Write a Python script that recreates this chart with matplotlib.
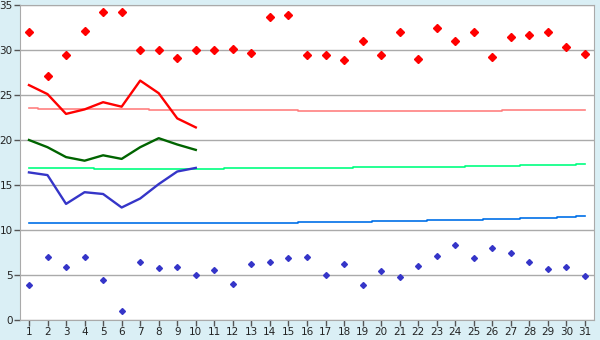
import numpy as np
import matplotlib
matplotlib.use('Agg')
import matplotlib.pyplot as plt

### DATA ------------------------
days = list(range(1, 32))
# daily max / min points
red_pts = [32.0, 27.1, 29.4, 32.1, 34.2, 34.2, 30.0, 30.0, 29.1, 30.0,
           30.0, 30.1, 29.7, 33.7, 33.9, 29.4, 29.4, 28.9, 31.0, 29.5,
           32.0, 29.0, 32.4, 31.0, 32.0, 29.2, 31.5, 31.7, 32.0, 30.3, 29.6]
blue_pts = [3.9, 7.0, 5.9, 7.0, 4.4, 1.0, 6.4, 5.8, 5.9, 5.0,
            5.6, 4.0, 6.2, 6.5, 6.9, 7.0, 5.0, 6.2, 3.9, 5.4,
            4.8, 6.0, 7.1, 8.3, 6.9, 8.0, 7.5, 6.4, 5.7, 5.9, 4.9]
# first ten days lines
line_days = days[:10]
red_line = [26.1, 25.1, 22.9, 23.4, 24.2, 23.7, 26.6, 25.2, 22.4, 21.4]
green_line = [20.0, 19.2, 18.1, 17.7, 18.3, 17.9, 19.2, 20.2, 19.5, 18.9]
blue_line = [16.4, 16.1, 12.9, 14.2, 14.0, 12.5, 13.5, 15.1, 16.5, 16.9]
# long-term reference lines
pink_ref = [23.52, 23.5, 23.45, 23.44, 23.44, 23.42, 23.4, 23.36, 23.34, 23.33,
            23.32, 23.31, 23.3, 23.3, 23.28, 23.26, 23.22, 23.2, 23.19, 23.19,
            23.19, 23.19, 23.19, 23.2, 23.22, 23.25, 23.28, 23.3, 23.3, 23.3, 23.3]
green_ref = [16.85, 16.85, 16.84, 16.84, 16.83, 16.82, 16.8, 16.8, 16.8, 16.8,
             16.82, 16.84, 16.85, 16.86, 16.87, 16.88, 16.9, 16.93, 16.96, 16.97,
             16.98, 17.0, 17.03, 17.05, 17.08, 17.12, 17.15, 17.18, 17.22, 17.26, 17.3]
blue_ref = [10.78, 10.77, 10.76, 10.75, 10.75, 10.74, 10.74, 10.74, 10.74, 10.75,
            10.76, 10.77, 10.78, 10.8, 10.83, 10.85, 10.87, 10.9, 10.93, 10.96,
            10.98, 11.02, 11.06, 11.1, 11.15, 11.2, 11.25, 11.3, 11.38, 11.45, 11.52]

### PLOT ------------------------
fig = plt.figure(figsize=(6, 3.4), dpi=100, facecolor='#daeff5')
ax = fig.add_axes([19.7 / 600, 1 - 320 / 340, 574.6 / 600, 315 / 340])
ax.set_facecolor('white')

ax.plot(days, pink_ref, color='#ff8080', lw=1.2, drawstyle='steps-mid')
ax.plot(days, green_ref, color='#00ff80', lw=1.2, drawstyle='steps-mid')
ax.plot(days, blue_ref, color='#0070e8', lw=1.2, drawstyle='steps-mid')

ax.plot(line_days, red_line, color='#ff0000', lw=1.7)
ax.plot(line_days, green_line, color='#006400', lw=1.7)
ax.plot(line_days, blue_line, color='#3535c8', lw=1.7)

ax.plot(days, red_pts, ls='none', marker='D', ms=3.6, color='#ff0000')
ax.plot(days, blue_pts, ls='none', marker='D', ms=3.0, color='#3535c8')

ax.set_xlim(0.5, 31.5)
ax.set_ylim(0, 35)
ax.set_xticks(days)
ax.set_yticks(range(0, 36, 5))
ax.grid(axis='y', color='#aaaaaa', lw=1)
ax.set_axisbelow(True)
for s in ax.spines.values():
    s.set_color('#aaaaaa')
ax.tick_params(colors='#222222', labelsize=7.5, length=4, width=1, pad=1)
ax.tick_params(axis='both', color='#555555')

fig.savefig('out.png', dpi=100, facecolor=fig.get_facecolor())
